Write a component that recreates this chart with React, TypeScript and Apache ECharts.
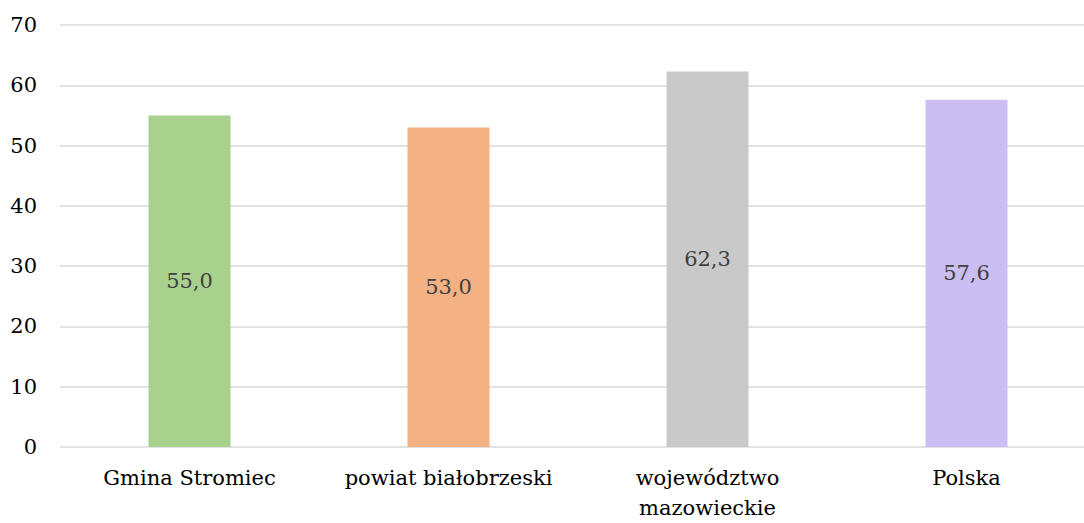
import React, { useEffect, useRef } from "react";
import * as echarts from "echarts";

const categories = ["Gmina Stromiec", "powiat białobrzeski", "województwo\nmazowieckie", "Polska"];
const values = [55.0, 53.0, 62.3, 57.6];
const barColors = ["#A9D18E", "#F4B183", "#C9C9C9", "#CBBEF3"];
const yTicks = { min: 0, max: 70, interval: 10 };

export default function App() {
  const ref = useRef<HTMLDivElement>(null);
  useEffect(() => {
    document.body.style.margin = "0";
    const chart = echarts.init(ref.current!, null, { renderer: "svg" });
    const font = "DejaVu Serif";
    chart.setOption({
      animation: false,
      backgroundColor: "#ffffff",
      textStyle: { fontFamily: font },
      grid: { left: 60, top: 25, bottom: 73, right: 0, containLabel: false },
      xAxis: {
        type: "category",
        data: categories,
        axisLine: { show: false },
        axisTick: { show: false },
        axisLabel: {
          color: "#000000",
          fontFamily: font,
          fontSize: 21,
          lineHeight: 30,
          margin: 16,
          interval: 0,
        },
      },
      yAxis: {
        type: "value",
        min: yTicks.min,
        max: yTicks.max,
        interval: yTicks.interval,
        axisLine: { show: false },
        axisTick: { show: false },
        axisLabel: { color: "#000000", fontFamily: font, fontSize: 21, margin: 23 },
        splitLine: { lineStyle: { color: "#d9d9d9", width: 1.5 } },
      },
      series: [
        {
          type: "bar",
          barWidth: 82,
          data: values.map((v, i) => ({ value: v, itemStyle: { color: barColors[i] } })),
          label: {
            show: true,
            position: "inside",
            color: "#404040",
            fontFamily: font,
            fontSize: 21,
            formatter: (p: any) => p.value.toFixed(1).replace(".", ","),
          },
        },
      ],
    });
    return () => chart.dispose();
  }, []);
  return (
    <div style={{ width: 1084, height: 523, overflow: "hidden", position: "relative" }}>
      <div ref={ref} style={{ width: 1096, height: 523 }} />
    </div>
  );
}
